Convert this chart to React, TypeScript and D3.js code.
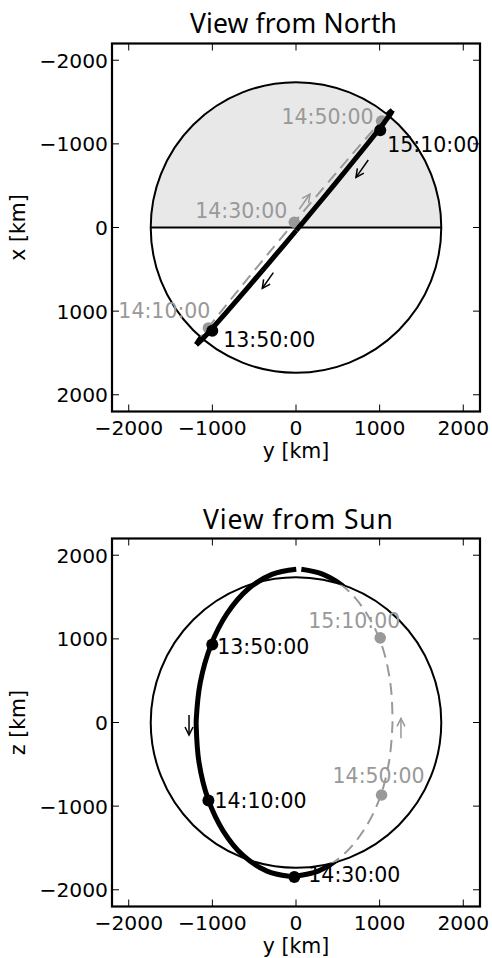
import React from "react";
import * as d3 from "d3";

const MOON_RADIUS = 1737;
const AXIS_LIMIT = 2200;

// Orbit track (km), sampled along one revolution (x: toward Sun, z: north)
const trajX = [36, 380, 718, 1006, 1225, 1360, 1402, 1400, 1347, 1200, 970, 674, 331, 14, -48, -400, -737, -1026, -1245, -1368, -1402, -1401, -1355, -1219, -989, -693, -350, -38, 36];
const trajY = [3, -288, -576, -825, -1019, -1145, -1192, -1193, -1160, -1050, -868, -629, -347, -83, -32, 265, 553, 802, 996, 1112, 1152, 1154, 1128, 1027, 846, 606, 324, 64, 3];
const trajZ = [1832, 1771, 1593, 1301, 920, 476, 48, -48, -476, -920, -1301, -1593, -1777, -1839, -1840, -1777, -1593, -1301, -920, -472, -48, 48, 472, 920, 1301, 1593, 1771, 1832, 1832];

// Time markers
const markTimes = ["13:50:00", "14:10:00", "14:30:00", "14:50:00", "15:10:00"];
const markX = [1234, 1201, -63, -1273, -1162];
const markY = [-1001, -1047, -20, 1023, 1007];
const markZ = [932, -933, -1846, -867, 1012];

const tickValues = [-2000, -1000, 0, 1000, 2000];
const tickLabels = ["\u22122000", "\u22121000", "0", "1000", "2000"];

// direction arrows [y, v]
const northArrowFrom = [[864, -807], [-271, 540], [39, -218]];
const northArrowTo = [[717, -600], [-403, 727], [167, -400]];
const sunArrowFrom = [[-1279, 90], [1255, -189]];
const sunArrowTo = [[-1279, -149], [1255, 50]];

const GRAY = "#999999";
const MONO = "'DejaVu Sans', sans-serif";
const TITLE_FONT = "'Noto Sans', 'Open Sans', sans-serif";

const LEFT = 112;
const SIZE = 368;

type Pt = [number, number];

const panels = [
  {
    id: "north",
    title: "View from North",
    titleY: 33,
    titleW: 207,
    titleX: 293.5,
    top: 43.5,
    vLabel: "x [km]",
    vDomain: [-AXIS_LIMIT, AXIS_LIMIT],
    trajV: trajX,
    trajDepth: trajZ,
    markV: markX,
    markDepth: markZ,
    shade: true,
    arrowsFrom: northArrowFrom,
    arrowsTo: northArrowTo,
    arrowColors: ["#000", "#000", GRAY],
    labelOffsets: [
      [11, 16, "start"],
      [2, -10, "end"],
      [-7, -4, "end"],
      [-8, 3, "end"],
      [7, 22, "start"],
    ],
  },
  {
    id: "sun",
    title: "View from Sun",
    titleY: 529,
    titleW: 190,
    titleX: 298,
    top: 538.5,
    vLabel: "z [km]",
    vDomain: [AXIS_LIMIT, -AXIS_LIMIT],
    trajV: trajZ,
    trajDepth: trajX,
    markV: markZ,
    markDepth: markX,
    shade: false,
    arrowsFrom: sunArrowFrom,
    arrowsTo: sunArrowTo,
    arrowColors: ["#000", GRAY],
    labelOffsets: [
      [5, 9, "start"],
      [6, 7.5, "start"],
      [14, 5, "start"],
      [-49, -12, "start"],
      [-72, -10, "start"],
    ],
  },
];

function Panel({ cfg }: { cfg: any }) {
  const L = LEFT;
  const Rr = LEFT + SIZE;
  const T = cfg.top;
  const B = cfg.top + SIZE;
  const sx = d3.scaleLinear().domain([-AXIS_LIMIT, AXIS_LIMIT]).range([L, Rr]);
  const sv = d3.scaleLinear().domain(cfg.vDomain).range([T, B]);
  const cx = sx(0);
  const cy = sv(0);
  const rPx = sx(MOON_RADIUS) - sx(0);

  const pts: Pt[] = trajY.map((y, i) => [y, cfg.trajV[i]] as Pt);
  const depth: number[] = cfg.trajDepth;
  // group consecutive samples on the same side (masked-array style)
  const groups: { front: boolean; pts: Pt[] }[] = [];
  pts.forEach((p, i) => {
    const front = depth[i] >= 0;
    const last = groups[groups.length - 1];
    if (last && last.front === front) last.pts.push(p);
    else groups.push({ front, pts: [p] });
  });
  const drawn = groups.filter((g) => g.pts.length > 1);

  const line = d3
    .line<Pt>()
    .x((d) => sx(d[0]))
    .y((d) => sv(d[1]))
    .curve(d3.curveCatmullRom.alpha(0.5));

  const inId = `in-${cfg.id}`;
  const outId = `out-${cfg.id}`;
  const outsidePath = `M${L - 20},${T - 20}H${Rr + 20}V${B + 20}H${L - 20}Z M${cx + rPx},${cy} A${rPx},${rPx} 0 1 0 ${cx - rPx},${cy} A${rPx},${rPx} 0 1 0 ${cx + rPx},${cy} Z`;

  const markers = markTimes.map((t, i) => {
    const h = markY[i];
    const v = cfg.markV[i];
    const d = cfg.markDepth[i];
    const hidden = d < 0 && Math.hypot(h, v) < MOON_RADIUS;
    return { t, px: sx(h), py: sv(v), hidden, off: cfg.labelOffsets[i] };
  });

  const tickLen = 7;

  return (
    <g>
      <defs>
        <clipPath id={inId}>
          <circle cx={cx} cy={cy} r={rPx} />
        </clipPath>
        <clipPath id={outId}>
          <path d={outsidePath} clipRule="evenodd" />
        </clipPath>
      </defs>
      <text
        x={cfg.titleX}
        y={cfg.titleY}
        textAnchor="middle"
        fontFamily={TITLE_FONT}
        fontSize={26.5}
        textLength={cfg.titleW}
        lengthAdjust="spacing"
        fill="#000"
      >
        {cfg.title}
      </text>

      {cfg.shade && (
        <path
          d={`M${cx - rPx},${cy} A${rPx},${rPx} 0 0 1 ${cx + rPx},${cy} Z`}
          fill="#e8e8e8"
          stroke="none"
        />
      )}
      <circle cx={cx} cy={cy} r={rPx} fill="none" stroke="#000" strokeWidth={2} />
      {cfg.shade && (
        <line x1={cx - rPx} x2={cx + rPx} y1={cy} y2={cy} stroke="#000" strokeWidth={2} />
      )}

      {/* hidden parts: dashed inside disk */}
      {drawn
        .filter((g) => !g.front)
        .map((g, i) => (
          <path
            key={`d${i}`}
            d={line(g.pts) || ""}
            fill="none"
            stroke={GRAY}
            strokeWidth={2}
            strokeDasharray="12,7"
            clipPath={`url(#${inId})`}
          />
        ))}
      {markers
        .filter((m) => m.hidden)
        .map((m, i) => (
          <circle key={`gm${i}`} cx={m.px} cy={m.py} r={5.8} fill={GRAY} />
        ))}
      {drawn.map((g, i) => (
        <path
          key={`s${i}`}
          d={line(g.pts) || ""}
          fill="none"
          stroke="#000"
          strokeWidth={5}
          strokeLinejoin="round"
          clipPath={g.front ? undefined : `url(#${outId})`}
        />
      ))}
      {markers
        .filter((m) => !m.hidden)
        .map((m, i) => (
          <circle key={`bm${i}`} cx={m.px} cy={m.py} r={6} fill="#000" />
        ))}

      {cfg.arrowsFrom.map((a: number[], i: number) => {
        const b = cfg.arrowsTo[i];
        const col = cfg.arrowColors[i];
        const x1 = sx(a[0]);
        const y1 = sv(a[1]);
        const x2 = sx(b[0]);
        const y2 = sv(b[1]);
        const ang = Math.atan2(y2 - y1, x2 - x1);
        const hl = 8;
        const hw = 4;
        const bx = x2 - hl * Math.cos(ang);
        const by = y2 - hl * Math.sin(ang);
        const nx = -Math.sin(ang);
        const ny = Math.cos(ang);
        return (
          <g key={`a${i}`} stroke={col} fill="none" strokeWidth={1.5}>
            <line x1={x1} y1={y1} x2={x2} y2={y2} />
            <path d={`M${bx + nx * hw},${by + ny * hw}L${x2},${y2}L${bx - nx * hw},${by - ny * hw}`} />
          </g>
        );
      })}

      {markers.map((m, i) => (
        <text
          key={`l${i}`}
          x={m.px + m.off[0]}
          y={m.py + m.off[1]}
          textAnchor={m.off[2]}
          fontFamily={MONO}
          fontSize={20.5}
          fill={m.hidden ? GRAY : "#000"}
        >
          {m.t}
        </text>
      ))}

      {/* ticks */}
      {tickValues.map((v, i) => (
        <g key={`t${i}`} stroke="#000" strokeWidth={1}>
          <line x1={sx(v)} x2={sx(v)} y1={B} y2={B - tickLen} />
          <line x1={sx(v)} x2={sx(v)} y1={T} y2={T + tickLen} />
          <line x1={L} x2={L + tickLen} y1={sv(v)} y2={sv(v)} />
          <line x1={Rr} x2={Rr - tickLen} y1={sv(v)} y2={sv(v)} />
        </g>
      ))}
      <rect x={L} y={T} width={SIZE} height={SIZE} fill="none" stroke="#000" strokeWidth={2.2} />

      {tickValues.map((v, i) => (
        <text
          key={`xl${i}`}
          x={sx(v)}
          y={B + 23}
          textAnchor="middle"
          fontFamily={MONO}
          fontSize={20.3}
          fill="#000"
        >
          {tickLabels[i]}
        </text>
      ))}
      {tickValues.map((v, i) => (
        <text
          key={`yl${i}`}
          x={L - 4}
          y={sv(v) + 7.4}
          textAnchor="end"
          fontFamily={MONO}
          fontSize={20.3}
          fill="#000"
        >
          {tickLabels[i]}
        </text>
      ))}
      <text
        x={sx(0)}
        y={B + 46}
        textAnchor="middle"
        fontFamily={MONO}
        fontSize={20.5}
        fill="#000"
      >
        y [km]
      </text>
      <text
        transform={`translate(25,${(T + B) / 2}) rotate(-90)`}
        textAnchor="middle"
        fontFamily={MONO}
        fontSize={20.5}
        fill="#000"
      >
        {cfg.vLabel}
      </text>
    </g>
  );
}

export default function App() {
  return (
    <svg
      width={492}
      height={958}
      viewBox="0 0 492 958"
      style={{ position: "absolute", left: 0, top: 0, background: "#fff" }}
    >
      <rect x={0} y={0} width={492} height={958} fill="#fff" />
      {panels.map((p) => (
        <Panel key={p.id} cfg={p} />
      ))}
    </svg>
  );
}
